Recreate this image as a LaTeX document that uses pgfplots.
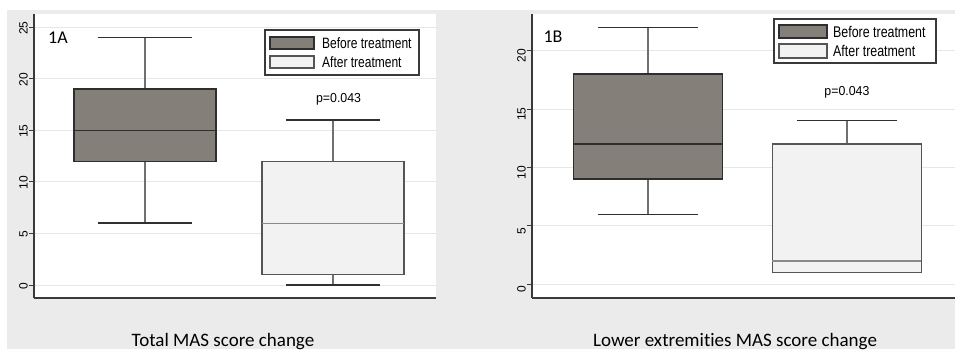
\documentclass[border=0pt]{standalone}
\usepackage{pgfplots}
\pgfplotsset{compat=1.18}
\usepgfplotslibrary{statistics}
\usepackage{fontspec}
\setmainfont{Liberation Sans}
\newfontfamily\calfont[Ligatures={NoCommon}]{Carlito}
\newfontfamily\narrowfont[FakeStretch=0.8]{Liberation Sans}
\newfontfamily\pfont[FakeStretch=0.95]{Liberation Sans}
\definecolor{bggray}{HTML}{EBEBEB}
\definecolor{gridgray}{HTML}{E6E6E6}
\definecolor{axisgray}{HTML}{3A3A3A}
\definecolor{beforefill}{HTML}{857F7A}
\definecolor{beforedraw}{HTML}{2E2E2E}
\definecolor{afterfill}{HTML}{F2F2F2}
\definecolor{afterdraw}{HTML}{555555}
\definecolor{aftermed}{HTML}{8A8A8A}
\definecolor{whiskgray}{HTML}{707070}
\definecolor{capgray}{HTML}{303030}
\pgfplotsset{
  boxplot/draw/lower whisker/.code={%
    \draw[/pgfplots/boxplot/every whisker/.try, draw=whiskgray]
      (boxplot whisker cs:\pgfplotsboxplotvalue{lower quartile},0.5) -- (boxplot whisker cs:\pgfplotsboxplotvalue{lower whisker},0.5);
    \draw[/pgfplots/boxplot/every whisker/.try, draw=capgray]
      (boxplot whisker cs:\pgfplotsboxplotvalue{lower whisker},0) -- (boxplot whisker cs:\pgfplotsboxplotvalue{lower whisker},1);
  },
  boxplot/draw/upper whisker/.code={%
    \draw[/pgfplots/boxplot/every whisker/.try, draw=whiskgray]
      (boxplot whisker cs:\pgfplotsboxplotvalue{upper quartile},0.5) -- (boxplot whisker cs:\pgfplotsboxplotvalue{upper whisker},0.5);
    \draw[/pgfplots/boxplot/every whisker/.try, draw=capgray]
      (boxplot whisker cs:\pgfplotsboxplotvalue{upper whisker},0) -- (boxplot whisker cs:\pgfplotsboxplotvalue{upper whisker},1);
  },
  panel/.style={
    scale only axis,
    boxplot/draw direction=y,
    axis x line=bottom, axis y line=left,
    axis line style={-, draw=axisgray, line width=1.3pt},
    axis background/.style={fill=white},
    xtick=\empty,
    ytick style={draw=axisgray, line width=1pt},
    tick align=outside, major tick length=5pt,
    ymajorgrids, grid style={draw=gridgray, line width=1pt},
    yticklabel style={rotate=90, anchor=south, font=\fontsize{12}{12}\selectfont, inner sep=1pt},
    /pgf/number format/assume math mode=true,
    clip=false,
  },
  before/.style={solid, fill=beforefill, draw=beforedraw, line width=1.4pt,
    boxplot/every median/.style={draw=beforedraw, line width=1.4pt}, mark=none},
  after/.style={solid, fill=afterfill, draw=afterdraw, line width=1.3pt,
    boxplot/every median/.style={draw=aftermed, line width=1.2pt}, mark=none},
}
\begin{document}
\begin{tikzpicture}[x=1pt,y=1pt]
\fill[white] (0,0) rectangle (955,349);
\fill[bggray] (7,0) rectangle (955,339);
\path[use as bounding box] (0,0) rectangle (955,349);

% Panel 1A
\begin{axis}[panel, at={(34pt,51pt)}, anchor=south west,
  width=402pt, height=284pt,
  xmin=0.41, xmax=2.548, ymin=-1.26, ymax=26.28,
  ytick={0,5,10,15,20,25},
  yticklabel style={xshift=-1pt}]
\addplot[before, boxplot prepared={lower whisker=6, lower quartile=12, median=15,
  upper quartile=19, upper whisker=24, draw position=1, box extend=0.755, whisker extend=0.5}]
  coordinates {};
\addplot[after, boxplot prepared={lower whisker=0, lower quartile=1, median=6,
  upper quartile=12, upper whisker=16, draw position=2, box extend=0.755, whisker extend=0.5}]
  coordinates {};
\node[font=\pfont\fontsize{13}{13}\selectfont] at (axis cs:2.03,18) {p=0.043};
\end{axis}

% Panel 1B
\begin{axis}[panel, at={(532pt,51pt)}, anchor=south west,
  width=423pt, height=284pt,
  xmin=0.417, xmax=2.543, ymin=-1.17, ymax=23.14,
  ytick={0,5,10,15,20},
  yticklabel style={xshift=-5pt}]
\addplot[before, boxplot prepared={lower whisker=6, lower quartile=9, median=12,
  upper quartile=18, upper whisker=22, draw position=1, box extend=0.749, whisker extend=0.5}]
  coordinates {};
\addplot[after, boxplot prepared={lower whisker=1, lower quartile=1, median=2,
  upper quartile=12, upper whisker=14, draw position=2, box extend=0.749, whisker extend=0.5}]
  coordinates {};
\node[font=\pfont\fontsize{13}{13}\selectfont] at (axis cs:2,16.4) {p=0.043};
\end{axis}

% legends
\draw[axisgray, line width=1.2pt, fill=white] (265,319) rectangle (419,274);
\draw[beforedraw, line width=1.2pt, fill=beforefill] (270,312) rectangle (314,300);
\draw[afterdraw, line width=1.1pt, fill=afterfill] (270,293) rectangle (314,281);
\node[anchor=west, inner sep=0pt, font=\narrowfont\fontsize{15}{15}\selectfont] at (322,306) {Before treatment};
\node[anchor=west, inner sep=0pt, font=\narrowfont\fontsize{15}{15}\selectfont] at (322,287) {After treatment};

\draw[axisgray, line width=1.2pt, fill=white] (774,330) rectangle (936,286);
\draw[beforedraw, line width=1.2pt, fill=beforefill] (779,324) rectangle (827,311);
\draw[afterdraw, line width=1.1pt, fill=afterfill] (779,305) rectangle (827,291);
\node[anchor=west, inner sep=0pt, font=\narrowfont\fontsize{15.5}{15.5}\selectfont] at (833,317.5) {Before treatment};
\node[anchor=west, inner sep=0pt, font=\narrowfont\fontsize{15.5}{15.5}\selectfont] at (833,298) {After treatment};

% panel labels
\node[fill=white, inner sep=4pt, font=\calfont\fontsize{18}{18}\selectfont] at (58,311) {1A};
\node[fill=white, inner sep=4pt, font=\calfont\fontsize{18}{18}\selectfont] at (553,312) {1B};

% titles
\node[anchor=base, inner sep=0pt, font=\calfont\fontsize{19}{19}\selectfont] at (223,3) {Total MAS score change};
\node[anchor=base, inner sep=0pt, font=\calfont\fontsize{19}{19}\selectfont] at (735,3) {Lower extremities MAS score change};
\end{tikzpicture}
\end{document}
